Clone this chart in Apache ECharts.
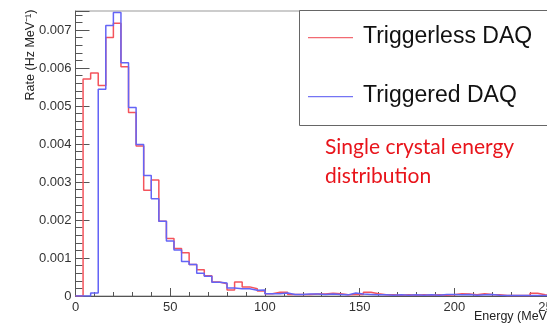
<!DOCTYPE html>
<html><head><meta charset="utf-8">
<script src="https://cdn.jsdelivr.net/npm/echarts@6/dist/echarts.min.js"></script>
<style>html,body{margin:0;padding:0;background:#fff}#c{width:547px;height:324px}</style>
</head><body><div id="c"></div>
<script>
// Bin lower edges (MeV), 4 MeV bins
const binEdges = [0,4,8,12,16,20,24,28,32,36,40,44,48,52,56,60,64,68,72,76,80,84,88,92,96,100,104,108,112,116,120,124,128,132,136,140,144,148,152,156,160,164,168,172,176,180,184,188,192,196,200,204,208,212,216,220,224,228,232,236,240,244,248,252];
// Rate (Hz/MeV) per bin
const triggerless = [0,0.00571,0.00587,0.00554,0.0068,0.00718,0.00603,0.00483,0.00395,0.00278,0.00305,0.00197,0.00151,0.00125,0.00114,0.00083,0.00069,0.00053,0.00037,0.00032,0.00016,0.00037,0.00024,0.00019,0.00013,0.00006,0.0001,0.0001,0.00004,0.00004,0.00004,0.00005,0.00005,0.00007,0.00006,0.00003,0.00004,0.00004,0.0001,0.00006,0.00003,0.00003,0.00002,0.00003,0.00002,0.00003,0.00002,0.00003,0.00002,0.00003,0.00006,0.00005,0.00003,0.00006,0.00004,0.00003,0.00001,0.00001,0.00001,0.00001,0.00007,0.00003,0.00001];
const triggered = [0,0,0.00008,0.00544,0.00712,0.00746,0.00614,0.00496,0.00399,0.00317,0.00256,0.00197,0.00145,0.00121,0.00091,0.00083,0.0006,0.00052,0.00036,0.00034,0.00021,0.00019,0.00019,0.00015,0.00016,0.00006,0.00006,0.00008,0.00004,0.00004,0.00005,0.00005,0.00004,0.00005,0.00004,0.00003,0.00008,0.00005,0.00004,0.00003,0.00003,0.00002,0.00003,0.00002,0.00003,0.00002,0.00003,0.00002,0.00004,0.00004,0.00003,0.00004,0.00002,0.00003,0.00004,0.00002,0.00001,0.00001,0.00001,0.00001,0.00001,0.00001,0.00001];
const seriesNames = ['Triggerless DAQ','Triggered DAQ'];
const yTicks = ['0','0.001','0.002','0.003','0.004','0.005','0.006','0.007'];
const xTicks = ['0','50','100','150','200','250'];

function hist(vals){
  const d = vals.map((v,i)=>[binEdges[i], v]);
  d.push([binEdges[vals.length], vals[vals.length-1]]);
  return d;
}
const chart = echarts.init(document.getElementById('c'), null, {renderer:'canvas'});
const font = '"Liberation Sans", Arial, sans-serif';
chart.setOption({
  animation:false,
  grid:{left:75.5, top:11, right:-2, bottom:28, containLabel:false, outerBoundsMode:'none',
        show:true, borderColor:'#999', borderWidth:1},
  xAxis:{type:'value', min:0, max:250, interval:50,
    axisLine:{lineStyle:{color:'#555',width:1}},
    axisTick:{inside:true,length:8,lineStyle:{color:'#555'}},
    minorTick:{show:true,splitNumber:5,length:4,lineStyle:{color:'#555'}},
    splitLine:{show:false},
    axisLabel:{color:'#333',fontSize:13,fontFamily:font,margin:5,hideOverlap:false,
      formatter:v=>{const i=Math.round(v/50); return Math.abs(v-i*50)<1e-6 && xTicks[i]!==undefined ? xTicks[i] : '';}}
  },
  yAxis:{type:'value', min:0, max:0.0075, interval:0.001,
    axisLine:{show:true,lineStyle:{color:'#555',width:1}},
    axisTick:{show:true,inside:true,length:14,lineStyle:{color:'#555'}},
    minorTick:{show:true,splitNumber:5,length:7,lineStyle:{color:'#555'}},
    splitLine:{show:false},
    axisLabel:{color:'#333',fontSize:13,fontFamily:font,margin:4,showMaxLabel:false,
      formatter:v=>{const i=Math.round(v/0.001); return Math.abs(v-i*0.001)<1e-9 && yTicks[i]!==undefined ? yTicks[i] : '';}}
  },
  series:[
    {name:seriesNames[0], type:'line', step:'end', symbol:'none', data:hist(triggerless),
      lineStyle:{color:'#f4545c',width:1.5}, z:3},
    {name:seriesNames[1], type:'line', step:'end', symbol:'none', data:hist(triggered),
      lineStyle:{color:'#6464f6',width:1.5}, z:4}
  ],
  graphic:[
    {type:'rect', left:299, top:10, shape:{width:260,height:115}, style:{fill:'#fff',stroke:'#666',lineWidth:1}, z:10},
    {type:'rect', shape:{x:308,y:37,width:45,height:1.2}, style:{fill:'#f26a72'}, z:11},
    {type:'text', left:363, top:25, style:{text:seriesNames[0], font:'23px '+font, fill:'#111'}, z:11},
    {type:'rect', shape:{x:308,y:96,width:45,height:1.2}, style:{fill:'#7474f4'}, z:11},
    {type:'text', left:363, top:84, style:{text:seriesNames[1], font:'23px '+font, fill:'#111'}, z:11},
    {type:'text', left:325, top:133, style:{text:'Single crystal energy\ndistribution', font:'21px Lato, sans-serif', fill:'#e8141b', lineHeight:29}, z:11},
    {type:'text', left:474, top:310, style:{text:'Energy (MeV)', font:'12.5px '+font, fill:'#222'}},
    {type:'text', x:31, y:55, rotation:Math.PI/2, style:{text:'Rate (Hz MeV\u207B\u00B9)', font:'12.5px '+font, fill:'#222', align:'center', verticalAlign:'middle'}}
  ]
});
</script></body></html>
